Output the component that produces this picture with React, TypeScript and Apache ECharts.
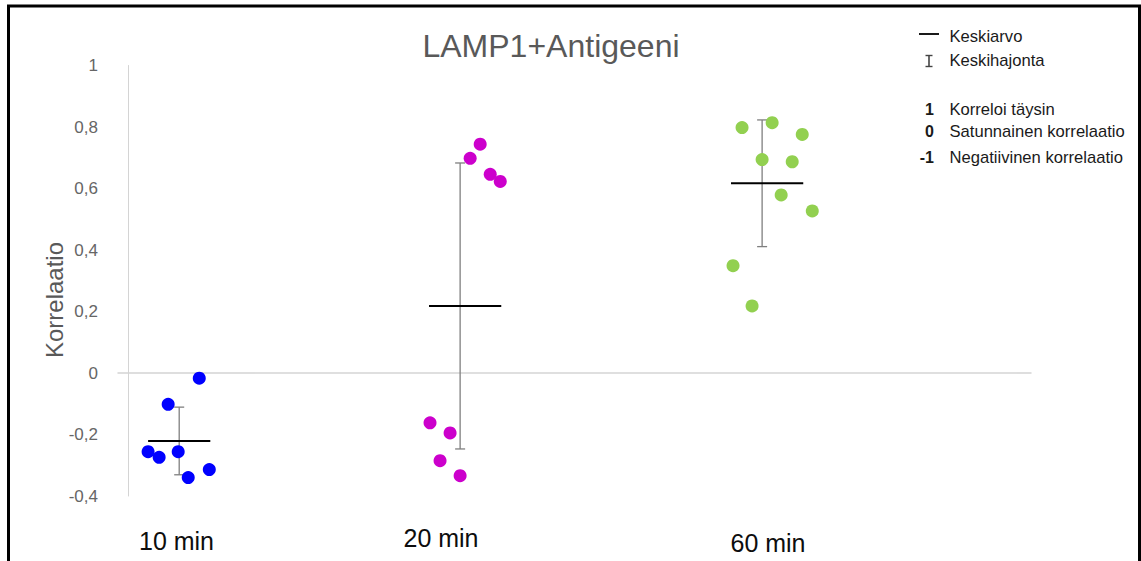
import React, { useEffect, useRef } from "react";
import * as echarts from "echarts";

const TITLE = "LAMP1+Antigeeni";
const Y_NAME = "Korrelaatio";
const categories = ["10 min", "20 min", "60 min"];
const colors = ["#0000FF", "#CC00CC", "#92D050"];

// jittered x positions (axis units) and correlation values per group
const x10 = [0.2, 0.31, 0.4, 0.5, 0.6, 0.71, 0.81];
const y10 = [-0.256, -0.274, -0.102, -0.256, -0.34, -0.017, -0.314];
const x20 = [3.01, 3.11, 3.21, 3.31, 3.41, 3.51, 3.61, 3.71];
const y20 = [-0.162, -0.285, -0.195, -0.334, 0.698, 0.744, 0.646, 0.623];
const x60 = [6.03, 6.12, 6.22, 6.32, 6.42, 6.51, 6.62, 6.72, 6.82];
const y60 = [0.349, 0.798, 0.218, 0.694, 0.814, 0.579, 0.687, 0.776, 0.527];

// mean and standard deviation per group
const means = [-0.221, 0.218, 0.617];
const sds = [0.11, 0.465, 0.206];
const groupCenters = [0.51, 3.31, 6.32];
const meanFrom = [0.2, 3.0, 6.01];
const meanTo = [0.82, 3.72, 6.73];

const yTicks = { min: -0.4, max: 1, interval: 0.2 };

const legendItems = ["Keskiarvo", "Keskihajonta"];
const scaleKeys = ["1", "0", "-1"];
const scaleTexts = ["Korreloi täysin", "Satunnainen korrelaatio", "Negatiivinen korrelaatio"];

const FONT = "'Liberation Sans', Arial, sans-serif";

export default function App() {
  const ref = useRef<HTMLDivElement>(null);
  useEffect(() => {
    if (!ref.current) return;
    const chart = echarts.init(ref.current, null, { renderer: "svg" });
    const groups = [
      [x10, y10],
      [x20, y20],
      [x60, y60],
    ];
    const scatterSeries = groups.map((g, i) => ({
      type: "scatter",
      name: categories[i],
      data: g[0].map((x, j) => [x, g[1][j]]),
      symbolSize: 13,
      itemStyle: { color: colors[i], opacity: 1 },
      z: 5,
    }));
    const statsData = means.map((m, i) => [groupCenters[i], m, sds[i], meanFrom[i], meanTo[i]]);
    const statsSeries = {
      type: "custom",
      name: "stats",
      data: statsData,
      encode: { x: [0, 3, 4], y: [1] },
      z: 3,
      renderItem: (params: any, api: any) => {
        const c = api.value(0);
        const m = api.value(1);
        const sd = api.value(2);
        const top = api.coord([c, m + sd]);
        const bot = api.coord([c, m - sd]);
        const l = api.coord([api.value(3), m]);
        const r = api.coord([api.value(4), m]);
        const cap = 5;
        const st = { stroke: "#7f7f7f", lineWidth: 1.3 };
        return {
          type: "group",
          children: [
            { type: "line", shape: { x1: top[0], y1: top[1], x2: bot[0], y2: bot[1] }, style: st },
            { type: "line", shape: { x1: top[0] - cap, y1: top[1], x2: top[0] + cap, y2: top[1] }, style: st },
            { type: "line", shape: { x1: bot[0] - cap, y1: bot[1], x2: bot[0] + cap, y2: bot[1] }, style: st },
            { type: "line", shape: { x1: l[0], y1: l[1], x2: r[0], y2: r[1] }, style: { stroke: "#000", lineWidth: 2 } },
          ],
        };
      },
    };

    const catPos = [
      [176.5, 540.5],
      [441, 538],
      [768, 543],
    ];
    const legendY = [36, 60];
    const scaleY = [109.5, 131.7, 157];

    const graphic: any[] = [
      {
        type: "rect",
        shape: { x: 8.5, y: 6, width: 1131, height: 640 },
        style: { fill: "none", stroke: "#000", lineWidth: 3 },
        silent: true,
      },
      {
        type: "text",
        x: 551,
        y: 45.5,
        style: { text: TITLE, fontSize: 32, fontFamily: FONT, fill: "#595959", align: "center", verticalAlign: "middle" },
      },
      {
        type: "text",
        x: 54,
        y: 300,
        rotation: Math.PI / 2,
        style: { text: Y_NAME, fontSize: 24, fontFamily: FONT, fill: "#595959", align: "center", verticalAlign: "middle" },
      },
      ...categories.map((c, i) => ({
        type: "text",
        x: catPos[i][0],
        y: catPos[i][1],
        style: { text: c, fontSize: 25, fontFamily: FONT, fill: "#0d0d0d", align: "center", verticalAlign: "middle" },
      })),
      // legend: mean marker
      { type: "line", shape: { x1: 919, y1: 34, x2: 939, y2: 34 }, style: { stroke: "#1a1a1a", lineWidth: 2 } },
      // legend: sd marker
      { type: "line", shape: { x1: 929, y1: 55.5, x2: 929, y2: 66.5 }, style: { stroke: "#444", lineWidth: 1.6 } },
      { type: "line", shape: { x1: 925.5, y1: 55.5, x2: 932.5, y2: 55.5 }, style: { stroke: "#444", lineWidth: 1.4 } },
      { type: "line", shape: { x1: 925.5, y1: 66.5, x2: 932.5, y2: 66.5 }, style: { stroke: "#444", lineWidth: 1.4 } },
      ...legendItems.map((t, i) => ({
        type: "text",
        x: 949.5,
        y: legendY[i],
        style: { text: t, fontSize: 16.6, fontFamily: FONT, fill: "#1a1a1a", align: "left", verticalAlign: "middle" },
      })),
      ...scaleKeys.map((t, i) => ({
        type: "text",
        x: 934,
        y: scaleY[i],
        style: { text: t, fontSize: 16, fontWeight: "bold", fontFamily: FONT, fill: "#1a1a1a", align: "right", verticalAlign: "middle" },
      })),
      ...scaleTexts.map((t, i) => ({
        type: "text",
        x: 949.5,
        y: scaleY[i],
        style: { text: t, fontSize: 16.6, fontFamily: FONT, fill: "#1a1a1a", align: "left", verticalAlign: "middle" },
      })),
    ];

    chart.setOption({
      animation: false,
      backgroundColor: "#ffffff",
      grid: { left: 118, right: 110, top: 65.5, bottom: 65 },
      xAxis: {
        type: "value",
        min: -0.1,
        max: 9,
        axisLine: { show: true, onZero: true, lineStyle: { color: "#d4d4d4", width: 1.5 } },
        axisTick: { show: false },
        axisLabel: { show: false },
        splitLine: { show: false },
      },
      yAxis: {
        type: "value",
        min: yTicks.min,
        max: yTicks.max,
        interval: yTicks.interval,
        axisLine: { show: true, onZero: true, lineStyle: { color: "#d4d4d4", width: 1 } },
        axisTick: { show: false },
        splitLine: { show: false },
        axisLabel: {
          margin: 20,
          fontSize: 17,
          fontFamily: FONT,
          color: "#666666",
          formatter: (v: number) => String(Number(v.toFixed(1))).replace(".", ","),
        },
      },
      series: [statsSeries, ...scatterSeries],
      graphic,
    });
    return () => chart.dispose();
  }, []);
  return (
    <div
      ref={ref}
      style={{ position: "fixed", left: 0, top: 0, width: 1141, height: 561, background: "#fff" }}
    />
  );
}
